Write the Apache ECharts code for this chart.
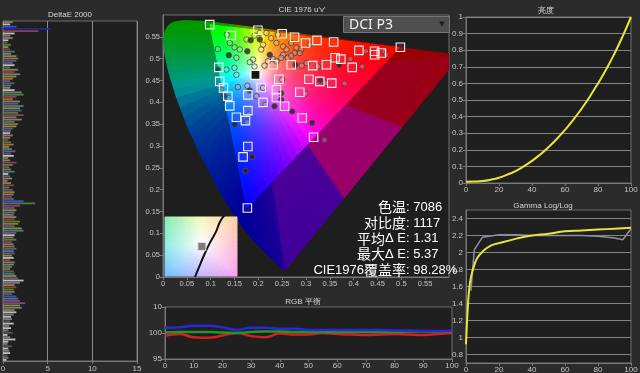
<!DOCTYPE html>
<html><head><meta charset="utf-8">
<script src="https://cdn.jsdelivr.net/npm/echarts@6/dist/echarts.min.js"></script>
<style>html,body{margin:0;padding:0;background:#2b2b2b}#c{width:640px;height:373px}</style>
</head><body><div id="c"></div><script>
// ---------- DATA ----------
const DE_VALUES = [
1.1,0.8,1.5,5.37,3.95,1.3,0.8,1.1,0.6,0.5,
0.9,0.6,0.8,1.3,0.9,1.5,1.7,1.5,1.1,1.3,
0.8,1.7,1.3,1.9,1.5,1.1,0.8,1.3,0.9,0.8,
1.3,2.1,2.3,1.5,1.1,1.9,1.7,2.3,1.9,2.1,
1.7,2.3,1.5,2.1,1.3,1.7,1.5,1.1,0.9,0.8,
1.1,0.8,0.6,0.9,1.2,0.7,1.0,1.4,0.9,1.2,
0.6,0.8,1.5,1.1,0.7,0.9,1.3,0.6,0.8,1.0,
0.5,0.9,1.2,0.7,1.1,
1.3,1.2,1.0,1.2,2.3,3.6,1.9,1.3,1.5,1.3,
1.2,1.5,1.3,1.9,1.7,1.3,2.1,2.3,1.5,1.3,
1.2,1.5,1.0,1.2,1.3,1.5,1.2,1.3,1.0,1.2,
0.8,1.3,1.2,1.0,0.8,1.2,1.3,1.5,1.7,2.3,
1.9,1.3,1.5,1.2,1.3,
1.0,1.5,1.7,1.9,2.5,1.9,2.1,1.3,1.5,1.2,
0.9,1.0,0.8,1.2,0.7,0.9,0.6,1.1,0.5,0.8,
1.4,0.6,0.5,1.0,0.6,0.7,0.8,0.5,0.6,0.4];
const DE_COLOR_CODES =
"twbdrwgtws"+"nyrcgtospw"+"ntrgyopsct"+"wgnrotpcys"+"nrgtcoyspw"+"gtrnoycpsw"+"tgrnsocwpy"+"gtrns"+
"otrsbnmpyc"+"gtrnosycpw"+"tnrgoscpyw"+"rtgnoscypw"+"gtrno"+
"sbcmpygtwg"+"wgkwgwgkwg"+"wwgkwgwkgw";
const DE_PALETTE = {t:'#8c7c5c',g:'#7c7c7c',w:'#bdbdbd',b:'#3a4fd8',d:'#1c2a9a',n:'#557d46',r:'#8c443e',
  o:'#987038',p:'#6e528a',c:'#467d7a',s:'#525f82',y:'#8c8c44',k:'#555555',m:'#8c446e'};

// CIE 1976 u'v' spectral locus (380 -> 700 nm)
const LOCUS_UV = [[0.2568,0.0166],[0.2522,0.0169],[0.2347,0.0350],[0.2161,0.0549],[0.1877,0.0871],
 [0.1690,0.1119],[0.1441,0.1510],[0.1147,0.2044],[0.0828,0.2708],[0.0521,0.3427],[0.0282,0.4117],
 [0.0119,0.4698],[0.0035,0.5131],[0.0014,0.5432],[0.0046,0.5638],[0.0123,0.5770],[0.0231,0.5837],
 [0.0360,0.5861],[0.0501,0.5868],[0.0792,0.5856],[0.1127,0.5821],[0.1531,0.5766],[0.2026,0.5694],
 [0.2623,0.5604],[0.3315,0.5501],[0.4035,0.5393],[0.4692,0.5296],[0.5203,0.5219],[0.5565,0.5165],
 [0.5830,0.5125],[0.6005,0.5099],[0.6234,0.5065]];
const P3_UV = [[0.4964,0.5255],[0.0986,0.5777],[0.1754,0.1579]];
const WHITE_UV = [0.1978,0.4683];
const TARGET_SQUARES = [[0.098,0.578],[0.199,0.565],[0.143,0.553],[0.250,0.557],[0.276,0.549],[0.299,0.536],
 [0.323,0.542],[0.358,0.538],[0.411,0.519],[0.444,0.517],[0.444,0.509],[0.458,0.513],[0.498,0.526],[0.361,0.502],
 [0.373,0.499],[0.397,0.480],[0.343,0.486],[0.314,0.484],[0.269,0.486],[0.231,0.486],[0.117,0.480],[0.119,0.448],
 [0.127,0.433],[0.136,0.414],[0.140,0.392],[0.178,0.417],[0.206,0.434],[0.238,0.429],[0.243,0.453],[0.287,0.423],
 [0.306,0.453],[0.329,0.448],[0.354,0.444],[0.210,0.400],[0.238,0.411],[0.255,0.391],[0.178,0.381],[0.154,0.366],
 [0.173,0.358],[0.292,0.364],[0.316,0.320],[0.178,0.299],[0.168,0.275],[0.177,0.158]];
const WHITE_TARGET = [[0.194,0.463]];
const MEASURED_LIGHT = [[0.134,0.555],[0.140,0.536],[0.150,0.526],[0.161,0.521],[0.115,0.522],[0.192,0.553],
 [0.203,0.559],[0.217,0.559],[0.227,0.547],[0.241,0.555],[0.175,0.544],[0.210,0.532],[0.238,0.536],[0.252,0.528],
 [0.269,0.536],[0.280,0.525],[0.290,0.521],[0.308,0.532],[0.259,0.521],[0.276,0.513],[0.287,0.513],[0.206,0.521],
 [0.252,0.509],[0.231,0.499],[0.238,0.494],[0.220,0.494],[0.248,0.502],[0.262,0.502],[0.269,0.507],[0.189,0.498],
 [0.182,0.492],[0.192,0.482],[0.213,0.484],[0.154,0.502],[0.133,0.475],[0.150,0.479],[0.154,0.463],[0.157,0.435],
 [0.122,0.430],[0.177,0.438],[0.210,0.433],[0.138,0.410],[0.196,0.414],[0.215,0.394],[0.250,0.452],[0.291,0.484],
 [0.301,0.490],[0.325,0.482],[0.393,0.499],[0.418,0.482],[0.426,0.517],[0.465,0.517],[0.468,0.509],[0.341,0.444],
 [0.381,0.443],[0.299,0.420],[0.339,0.314],[0.177,0.354],[0.180,0.372]];
const MEASURED_DARK = [[0.138,0.508],[0.177,0.517],[0.203,0.544],[0.184,0.542],[0.224,0.509],[0.115,0.475],
 [0.182,0.427],[0.129,0.414],[0.234,0.391],[0.248,0.406],[0.248,0.421],[0.278,0.486],[0.370,0.486],[0.330,0.450],
 [0.271,0.379],[0.313,0.353],[0.150,0.349],[0.187,0.275],[0.173,0.243]];
const PLANCK_UV = [[0.1839,0.4157],[0.1903,0.4400],[0.1946,0.4521],[0.1981,0.4606],[0.2004,0.4656],
 [0.2033,0.4712],[0.2062,0.4784],[0.2114,0.4847],[0.2251,0.5016]];
const INSET_WHITE = [[0.1955,0.4625]];

const BRIGHT_X = [0,5,10,15,20,25,30,35,40,45,50,55,60,65,70,75,80,85,90,95,100];
const BRIGHT_Y = [0.008,0.009,0.012,0.02,0.032,0.05,0.072,0.1,0.133,0.172,0.216,0.265,0.32,0.38,0.447,0.52,0.6,0.685,0.78,0.885,1.0];
const GAMMA_X = [0,1,2,3,5,7,10,15,20,30,40,50,60,70,80,90,100];
const GAMMA_TARGET = [0.92,1.32,1.58,1.71,1.85,1.94,2.01,2.08,2.11,2.16,2.20,2.22,2.25,2.26,2.27,2.28,2.29];
const GAMMA_MEAS_X = [3,5,10,20,30,40,50,60,70,80,90,95,100];
const GAMMA_MEAS = [1.55,2.03,2.18,2.21,2.21,2.2,2.2,2.2,2.2,2.19,2.17,2.15,2.28];
const RGB_X = [0,5,10,15,20,25,30,35,40,45,50,55,60,65,70,75,80,85,90,95,100];
const RGB_R = [99.5,99.8,99.2,99.1,99.5,100.0,99.4,99.2,99.9,99.7,99.7,100.0,99.8,99.7,99.6,99.7,99.8,99.7,99.6,99.8,100.0];
const RGB_G = [100.1,100.2,100.2,100.2,100.1,100.0,100.2,100.3,100.3,100.2,100.2,100.2,100.2,100.2,100.2,100.2,100.2,100.3,100.3,100.3,100.3];
const RGB_B = [101.0,101.1,101.4,101.4,101.1,100.6,101.0,101.0,100.8,100.8,100.6,100.6,100.6,100.6,100.6,100.6,100.5,100.5,100.4,100.4,100.5];
const STATS_LABELS = ['色温','对比度','平均Δ E','最大Δ E','CIE1976覆盖率'];
const STATS_VALUES = [': 7086',': 1117',': 1.31',': 5.37',': 98.28%'];

// ---------- helpers ----------
function uvToRgb(u,v){
  const d = 6*u - 16*v + 12;
  const x = 9*u/d, y = 4*v/d;
  const X = x/y, Y = 1, Z = (1-x-y)/y;
  let r = 3.2406*X - 1.5372*Y - 0.4986*Z;
  let g = -0.9689*X + 1.8758*Y + 0.0415*Z;
  let b = 0.0557*X - 0.2040*Y + 1.0570*Z;
  r=Math.max(r,0); g=Math.max(g,0); b=Math.max(b,0);
  const m = Math.max(r,g,b)||1;
  const gm = c => Math.pow(c/m, 1.0);
  return [gm(r),gm(g),gm(b)];
}
function rgbStr(c,k){return 'rgb('+c.map(t=>Math.round(Math.min(1,t*k)*255)).join(',')+')';}
function subdivide(pts,n){
  const out=[];
  for(let i=0;i<pts.length-1;i++){
    for(let s=0;s<n;s++){const t=s/n;out.push([pts[i][0]+t*(pts[i+1][0]-pts[i][0]),pts[i][1]+t*(pts[i+1][1]-pts[i][1])]);}
  }
  out.push(pts[pts.length-1]);
  return out;
}
function cieRender(params, api){
  const kids=[];
  const W=WHITE_UV, wp=api.coord(W);
  const fan=(pts,k)=>{
    for(let i=0;i<pts.length-1;i++){
      const a=pts[i], b=pts[i+1];
      const m=[(a[0]+b[0])/2,(a[1]+b[1])/2];
      const pm=api.coord(m);
      const stops=[];
      for(let s=0;s<=6;s++){const t=s/6;stops.push({offset:t,color:rgbStr(uvToRgb(W[0]+t*(m[0]-W[0]),W[1]+t*(m[1]-W[1])),k)});}
      const grad={type:'linear',x:wp[0],y:wp[1],x2:pm[0],y2:pm[1],global:true,colorStops:stops};
      kids.push({type:'polygon',shape:{points:[wp,api.coord(a),api.coord(b)]},style:{fill:grad,stroke:grad,lineWidth:1}});
    }
  };
  const horse = LOCUS_UV.concat([LOCUS_UV[0]]);
  fan(subdivide(horse,3),0.6);
  fan(subdivide(P3_UV.concat([P3_UV[0]]),24),1);
  return {type:'group',children:kids};
}
function hex2rgb(h){return [parseInt(h.substr(1,2),16),parseInt(h.substr(3,2),16),parseInt(h.substr(5,2),16)];}
function insetRender(params, api){
  const cs=params.coordSys; const x0=cs.x,y0=cs.y,w=cs.width,h=cs.height;
  const keys=[[x0,y0,'#86eeb0'],[x0+w/2,y0,'#f4f8c0'],[x0+w,y0,'#ffcfa0'],[x0+w,y0+h/2,'#ffbcd0'],
    [x0+w,y0+h,'#f8a4f0'],[x0+w/2,y0+h,'#c4b4ff'],[x0,y0+h,'#72c0ff'],[x0,y0+h/2,'#90ece4'],[x0,y0,'#86eeb0']];
  const pts=[];
  for(let i=0;i<keys.length-1;i++){
    const A=keys[i],B=keys[i+1],ca=hex2rgb(A[2]),cb=hex2rgb(B[2]);
    for(let s=0;s<6;s++){const t=s/6;pts.push([A[0]+t*(B[0]-A[0]),A[1]+t*(B[1]-A[1]),ca.map((c,j)=>c+t*(cb[j]-c))]);}
  }
  pts.push([keys[0][0],keys[0][1],hex2rgb(keys[0][2])]);
  const cx=x0+w*0.5, cy=y0+h*0.45;
  const kids=[];
  for(let i=0;i<pts.length-1;i++){
    const a=pts[i],b=pts[i+1];
    const mx=(a[0]+b[0])/2,my=(a[1]+b[1])/2;
    const col=a[2].map((c,j)=>Math.round((c+b[2][j])/2));
    const grad={type:'linear',x:cx,y:cy,x2:mx,y2:my,global:true,colorStops:[{offset:0,color:'#fdfdff'},{offset:1,color:'rgb('+col.join(',')+')'}]};
    kids.push({type:'polygon',shape:{points:[[cx,cy],[a[0],a[1]],[b[0],b[1]]]},style:{fill:grad,stroke:grad,lineWidth:1}});
  }
  return {type:'group',children:kids};
}
function richText(t){
  return t.replace(/([\u4e00-\u9fff]+)|([^\u4e00-\u9fff]+)/g,(m,c,l)=>c?'{c|'+c+'}':'{l|'+l+'}');
}

// ---------- chart ----------
const LBL='#c4c4c4', AX='#7a7a7a', FONT='"Liberation Sans", "DejaVu Sans", sans-serif';
const lab=(extra)=>Object.assign({fontSize:8,color:LBL,fontFamily:FONT,margin:3},extra||{});
const gridBase={show:true,containLabel:false,outerBoundsMode:'none',backgroundColor:'#1f1f1f',borderColor:'#6e6e6e',borderWidth:1};
const chart=echarts.init(document.getElementById('c'));
const deData=DE_VALUES.map((v,i)=>({value:v,itemStyle:{color:DE_PALETTE[DE_COLOR_CODES[i]]}}));
const title=(t,x,y)=>({type:'text',x:x,y:y,z:100,style:{text:t,fill:'#d6d6d6',font:'8px '+FONT,textAlign:'center',textVerticalAlign:'middle'}});
const graphics=[
  title('DeltaE 2000',70,15), title("CIE 1976 u'v'",302,10), title('亮度',546,11),
  title('Gamma Log/Log',543,206), title('RGB 平衡',303,302),
  {type:'rect',z:100,shape:{x:343.5,y:16.5,width:106,height:16},style:{fill:'#4f4f4f',stroke:'#767676',lineWidth:1}},
  {type:'text',z:101,x:349,y:25,style:{text:'DCI P3',fill:'#f2f2f2',font:'14px "Noto Sans", sans-serif',textAlign:'left',textVerticalAlign:'middle'}},
  {type:'text',z:101,x:442,y:24,style:{text:'▼',fill:'#1a1a1a',font:'7px "DejaVu Sans"',textAlign:'center',textVerticalAlign:'middle'}}
];
const SY=[207,223,238.5,254,270];
const RICH={c:{fontSize:14,fontFamily:'"Noto Sans CJK SC", sans-serif',fill:'#ffffff',color:'#ffffff'},
            l:{fontSize:13,fontFamily:'"Liberation Sans", "Noto Sans CJK SC", sans-serif',fill:'#ffffff',color:'#ffffff'}};
STATS_LABELS.forEach((t,i)=>{
  graphics.push({type:'text',z:100,x:406,y:SY[i],style:{text:richText(t),rich:RICH,fill:'#ffffff',textAlign:'right',textVerticalAlign:'middle'}});
  graphics.push({type:'text',z:100,x:406,y:SY[i],style:{text:STATS_VALUES[i],fill:'#ffffff',font:'13px "Liberation Sans", sans-serif',textAlign:'left',textVerticalAlign:'middle'}});
});
const ax=(o)=>Object.assign({type:'value',axisLine:{show:true,lineStyle:{color:AX}},axisTick:{show:true,length:3,lineStyle:{color:AX}},splitLine:{show:false}},o);
chart.setOption({
  animation:false,
  backgroundColor:'#2b2b2b',
  graphic:graphics,
  grid:[
    Object.assign({},gridBase,{left:3,top:21,width:134,height:340}),
    Object.assign({},gridBase,{left:163,top:15,width:286,height:262,backgroundColor:'#1e1e1e'}),
    Object.assign({},gridBase,{left:165,top:217,width:72,height:59,backgroundColor:'transparent',borderWidth:0,z:10}),
    Object.assign({},gridBase,{left:466,top:17,width:165,height:166}),
    Object.assign({},gridBase,{left:466,top:210,width:165,height:153}),
    Object.assign({},gridBase,{left:165,top:307,width:287,height:52})
  ],
  xAxis:[
    ax({gridIndex:0,min:0,max:15,interval:5,axisLabel:lab({margin:4}),splitLine:{show:true,lineStyle:{color:'#8c8c8c'}}}),
    ax({gridIndex:1,min:0,max:0.6,interval:0.05,axisLabel:lab({showMaxLabel:false,fontSize:7.5})}),
    {gridIndex:2,type:'value',min:0.175,max:0.215,show:false},
    ax({gridIndex:3,min:0,max:100,interval:20,axisLabel:lab()}),
    ax({gridIndex:4,min:0,max:100,interval:20,axisLabel:lab()}),
    ax({gridIndex:5,min:0,max:100,interval:10,axisLabel:lab()})
  ],
  yAxis:[
    {gridIndex:0,type:'category',inverse:true,data:DE_VALUES.map((v,i)=>i),show:false},
    ax({gridIndex:1,min:0,max:0.6,interval:0.05,axisLabel:lab({showMaxLabel:false,fontSize:7.5})}),
    {gridIndex:2,type:'value',min:0.445,max:0.48,show:false},
    ax({gridIndex:3,min:0,max:1,interval:0.1,axisLabel:lab(),splitLine:{show:true,lineStyle:{color:'#858585'}}}),
    ax({gridIndex:4,min:0.7,max:2.5,interval:0.1,axisTick:{show:false},
      axisLabel:lab({formatter:v=>{const k=Math.round(v*10);return k%2===0?String(k/10):'';}}),
      splitLine:{show:true,lineStyle:{color:['rgba(0,0,0,0)','#858585']}}}),
    ax({gridIndex:5,min:95,max:105,interval:5,axisLabel:lab({formatter:v=>v===105?'10':String(v)})})
  ],
  series:[
    {type:'bar',xAxisIndex:0,yAxisIndex:0,data:deData,barWidth:'80%',silent:true},
    {type:'custom',xAxisIndex:1,yAxisIndex:1,data:[[0.2,0.3]],renderItem:cieRender,clip:true,silent:true,z:1},
    {type:'scatter',xAxisIndex:1,yAxisIndex:1,data:MEASURED_LIGHT,symbol:'circle',symbolSize:5.5,z:3,
      itemStyle:{color:'rgba(215,215,215,0.28)',borderColor:'rgba(55,55,55,0.7)',borderWidth:1,opacity:1},silent:true},
    {type:'scatter',xAxisIndex:1,yAxisIndex:1,data:MEASURED_DARK,symbol:'circle',symbolSize:5.5,z:3,
      itemStyle:{color:'rgba(35,35,35,0.8)',borderColor:'rgba(80,80,80,0.8)',borderWidth:1,opacity:1},silent:true},
    {type:'scatter',xAxisIndex:1,yAxisIndex:1,data:TARGET_SQUARES,symbol:'rect',symbolSize:8.5,z:4,
      itemStyle:{color:'rgba(255,255,255,0.06)',borderColor:'#f0f0f0',borderWidth:1.1,opacity:1},silent:true},
    {type:'scatter',xAxisIndex:1,yAxisIndex:1,data:WHITE_TARGET,symbol:'rect',symbolSize:9,z:4,
      itemStyle:{color:'#151515',borderColor:'#f4f4f4',borderWidth:1.2,opacity:1},silent:true},
    {type:'custom',xAxisIndex:2,yAxisIndex:2,data:[[0.19,0.46]],renderItem:insetRender,z:10,silent:true},
    {type:'line',xAxisIndex:2,yAxisIndex:2,data:PLANCK_UV,smooth:true,symbol:'none',z:11,lineStyle:{color:'#111',width:2},silent:true},
    {type:'scatter',xAxisIndex:2,yAxisIndex:2,data:INSET_WHITE,symbol:'rect',symbolSize:8,z:12,
      itemStyle:{color:'#7c7c7c',borderColor:'#dcdcdc',borderWidth:1,opacity:1},silent:true},
    {type:'line',xAxisIndex:3,yAxisIndex:3,data:BRIGHT_X.map((x,i)=>[x,BRIGHT_Y[i]]),smooth:true,symbol:'none',
      lineStyle:{color:'#e6e63c',width:2},silent:true},
    {type:'line',xAxisIndex:4,yAxisIndex:4,data:GAMMA_MEAS_X.map((x,i)=>[x,GAMMA_MEAS[i]]),symbol:'none',
      lineStyle:{color:'#8e8ea2',width:1.5},silent:true},
    {type:'line',xAxisIndex:4,yAxisIndex:4,data:GAMMA_X.map((x,i)=>[x,GAMMA_TARGET[i]]),smooth:true,symbol:'none',
      lineStyle:{color:'#e6e63c',width:2},silent:true},
    {type:'line',xAxisIndex:5,yAxisIndex:5,data:RGB_X.map((x,i)=>[x,RGB_R[i]]),smooth:true,symbol:'none',
      lineStyle:{color:'#d42020',width:2.5},silent:true},
    {type:'line',xAxisIndex:5,yAxisIndex:5,data:RGB_X.map((x,i)=>[x,RGB_G[i]]),smooth:true,symbol:'none',
      lineStyle:{color:'#1f9a2a',width:2.5},silent:true},
    {type:'line',xAxisIndex:5,yAxisIndex:5,data:RGB_X.map((x,i)=>[x,RGB_B[i]]),smooth:true,symbol:'none',
      lineStyle:{color:'#2828d8',width:2.5},silent:true}
  ]
});
</script></body></html>
